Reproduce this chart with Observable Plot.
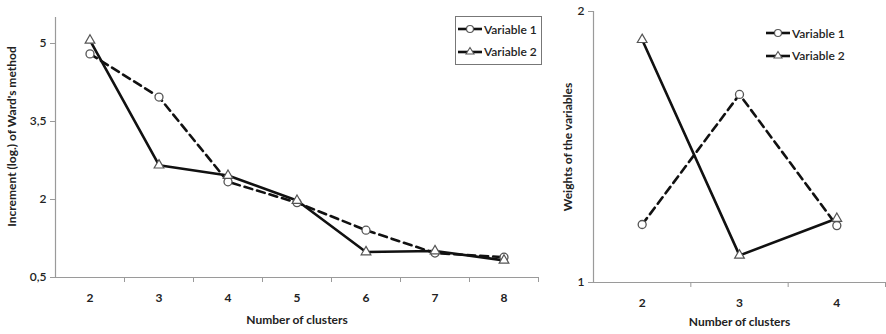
<!DOCTYPE html>
<html>
<head>
<meta charset="utf-8">
<script src="https://cdn.jsdelivr.net/npm/d3@7"></script>
<script src="https://cdn.jsdelivr.net/npm/@observablehq/plot@0.6"></script>
<style>
  html, body { margin: 0; padding: 0; background: #fff; }
  #wrap { position: relative; width: 886px; height: 334px; overflow: hidden; font-family: Lato, "Open Sans", sans-serif; }
  #left, #right { position: absolute; top: 0; }
  #left { left: 0; }
  #right { left: 545px; }
  .legend { position: absolute; font: 600 12px Lato, sans-serif; color: #222; }
  .legend .row { display: flex; align-items: center; height: 22px; }
  .legend svg { margin-right: 2px; }
  #legL { left: 455px; top: 16px; width: 87px; height: 49px; border: 1.5px solid #777; box-sizing: border-box; padding: 1px 0 0 2px; }
  #legR { left: 766px; top: 22px; }
</style>
</head>
<body>
<div id="wrap">
  <div id="left"></div>
  <div id="right"></div>
  <div id="legL" class="legend"></div>
  <div id="legR" class="legend"></div>
</div>
<script>
// ---- Data ----
const clustersLeft = [2, 3, 4, 5, 6, 7, 8];
const wardVar1 = [4.80, 3.97, 2.34, 1.94, 1.41, 0.97, 0.89];
const wardVar2 = [5.06, 2.66, 2.46, 1.98, 0.99, 1.01, 0.83];
const leftYTicks = [0.5, 2, 3.5, 5];

const clustersRight = [2, 3, 4];
const weightVar1 = [1.214, 1.694, 1.21];
const weightVar2 = [1.896, 1.10, 1.236];
const rightYTicks = [1, 2];

const seriesNames = ["Variable 1", "Variable 2"];
const leftTitleY = "Increment (log.) of Ward's method";
const rightTitleY = "Weights of the variables";
const titleX = "Number of clusters";

// ---- helpers ----
const AXIS = "#9a9a9a";
const LINE = "#111";
const fmtComma = d => String(d).replace(".", ",");

function rows(xs, ys, name) { return xs.map((x, i) => ({x, y: ys[i], s: name})); }

function chart({xs, v1, v2, yDomain, yTicks, width, height, mL, mR, mT, mB, titleY, titleYdx, titleYdy, titleXdy}) {
  const d1 = rows(xs, v1, seriesNames[0]);
  const d2 = rows(xs, v2, seriesNames[1]);
  const xMin = d3.min(xs) - 0.5, xMax = d3.max(xs) + 0.5;
  const bounds = xs.map(c => c + 0.5);
  return Plot.plot({
    width, height,
    marginLeft: mL, marginRight: mR, marginTop: mT, marginBottom: mB,
    style: {fontFamily: "Lato, 'Open Sans', sans-serif", fontSize: "12px", fontWeight: 600, color: "#222", background: "#fff"},
    x: {domain: [xMin, xMax]},
    y: {domain: yDomain},
    marks: [
      Plot.axisY(yTicks, {tickFormat: fmtComma, tickSize: 5, tickPadding: 4, stroke: AXIS, fill: "#222", label: null, fontWeight: 600, fontSize: 12}),
      Plot.axisX(xs, {tickSize: 0, tickPadding: 16, label: null, fill: "#222", fontWeight: 700, fontSize: 12}),
      Plot.axisX(bounds, {tickSize: 5, tickFormat: () => "", label: null, stroke: AXIS}),
      Plot.ruleX([xMin], {stroke: AXIS, strokeWidth: 1.2}),
      Plot.ruleY([yDomain[0]], {stroke: AXIS, strokeWidth: 1.2}),
      Plot.line(d1, {x: "x", y: "y", stroke: LINE, strokeWidth: 2.6, strokeDasharray: "8,5"}),
      Plot.line(d2, {x: "x", y: "y", stroke: LINE, strokeWidth: 2.6}),
      Plot.dot(d1, {x: "x", y: "y", r: 4, symbol: "circle", fill: "#fff", stroke: "#555", strokeWidth: 1.3}),
      Plot.dot(d2, {x: "x", y: "y", r: 3.6, symbol: "triangle", fill: "#fff", stroke: "#555", strokeWidth: 1.2}),
      Plot.text([titleY], {frameAnchor: "left", dx: titleYdx, dy: titleYdy, rotate: -90, textAnchor: "middle", fontWeight: 700, fontSize: 12, fill: "#222"}),
      Plot.text([titleX], {frameAnchor: "bottom", dy: titleXdy, textAnchor: "middle", fontWeight: 700, fontSize: 12, fill: "#222"})
    ]
  });
}

document.getElementById("left").appendChild(chart({
  xs: clustersLeft, v1: wardVar1, v2: wardVar2, yDomain: [0.5, 5.5], yTicks: leftYTicks,
  width: 545, height: 334, mL: 55, mR: 7, mT: 17, mB: 57,
  titleY: leftTitleY, titleYdx: -43, titleYdy: -11, titleXdy: 46
}));
document.getElementById("right").appendChild(chart({
  xs: clustersRight, v1: weightVar1, v2: weightVar2, yDomain: [1, 2], yTicks: rightYTicks,
  width: 341, height: 334, mL: 48, mR: 1, mT: 11, mB: 52,
  titleY: rightTitleY, titleYdx: -25, titleYdy: 0, titleXdy: 43
}));

// ---- legends ----
function legend(el) {
  seriesNames.forEach((name, i) => {
    const row = document.createElement("div");
    row.className = "row";
    const sym = i === 0
      ? '<svg width="24" height="10"><line x1="0" y1="5" x2="24" y2="5" stroke="#111" stroke-width="2.6"/><circle cx="12" cy="5" r="3.5" fill="#fff" stroke="#555" stroke-width="1.2"/></svg>'
      : '<svg width="24" height="10"><line x1="0" y1="6" x2="24" y2="6" stroke="#111" stroke-width="2.6"/><path d="M12,1.5 L16,8 L8,8 Z" fill="#fff" stroke="#555" stroke-width="1.1"/></svg>';
    row.innerHTML = sym + "<span>" + name + "</span>";
    el.appendChild(row);
  });
}
legend(document.getElementById("legL"));
legend(document.getElementById("legR"));
</script>
</body>
</html>
